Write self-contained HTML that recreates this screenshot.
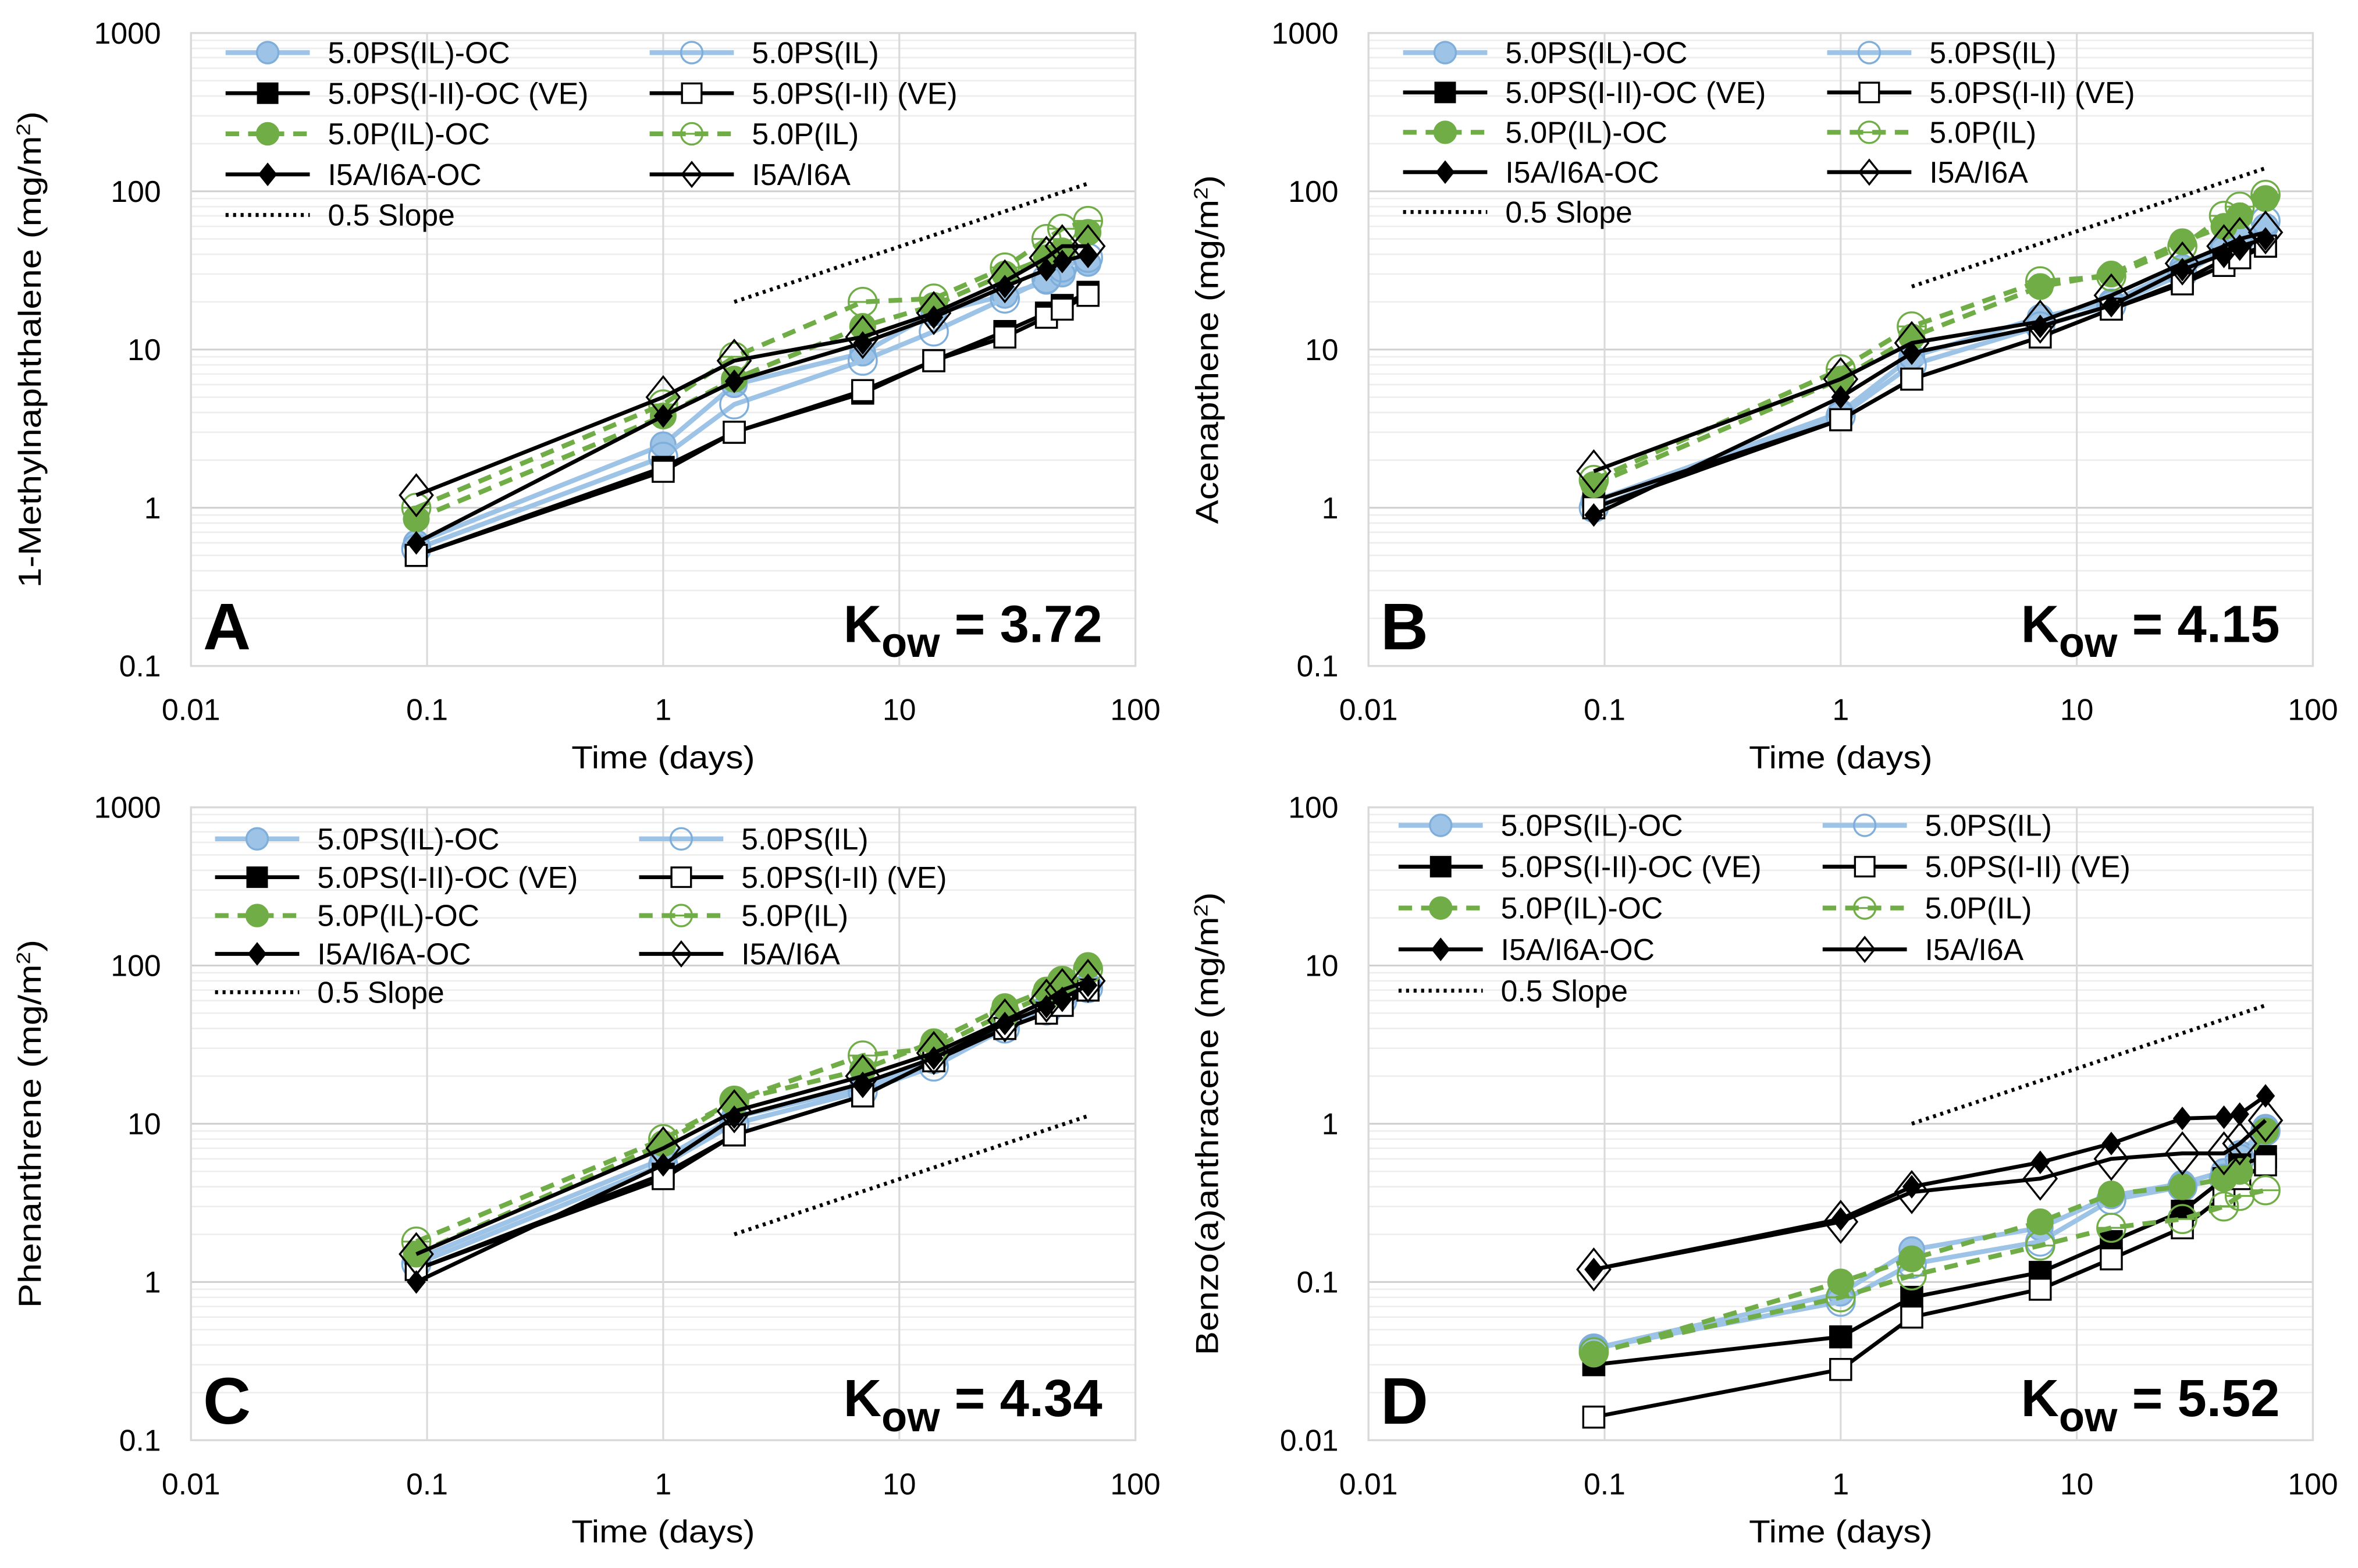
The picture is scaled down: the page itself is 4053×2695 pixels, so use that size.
<!DOCTYPE html>
<html><head><meta charset="utf-8">
<style>
html,body{margin:0;padding:0;background:#fff;}
svg{display:block;}
text{font-family:"Liberation Sans","DejaVu Sans",sans-serif;}
</style></head>
<body>
<svg id="fig" xmlns="http://www.w3.org/2000/svg" width="4053" height="2695" viewBox="0 0 1568 1043" preserveAspectRatio="none"></svg>
<script>
const times = [0.09, 1, 2, 7, 14, 28, 42, 49, 63];
const seriesNames = ["5.0PS(IL)-OC","5.0PS(IL)","5.0PS(I-II)-OC (VE)","5.0PS(I-II) (VE)","5.0P(IL)-OC","5.0P(IL)","I5A/I6A-OC","I5A/I6A"];
const xTicks = [0.01, 0.1, 1, 10, 100];
const xTickLabels = ["0.01","0.1","1","10","100"];
const yTicksABC = [0.1, 1, 10, 100, 1000];
const yTickLabelsABC = ["0.1","1","10","100","1000"];
const yTicksD = [0.01, 0.1, 1, 10, 100];
const yTickLabelsD = ["0.01","0.1","1","10","100"];
const slopeX = [2, 63];

const dataA = [
 [0.6,2.5,6,9.5,17,22,27,30,35],
 [0.55,2.1,4.5,8.5,13,21,28,33,38],
 [0.5,1.8,3,5.3,8.5,13,17,19,23],
 [0.5,1.7,3,5.5,8.5,12,16,18,22],
 [0.85,3.8,6.5,14,19,30,38,42,55],
 [1.0,4.5,9,20,21,33,50,58,65],
 [0.6,3.8,6.3,11,16,25,32,36,40],
 [1.2,5,8.5,12,17,27,38,45,45]];
const slopeA = [20, 112];
const dataB = [
 [1.1,4,9,16,20,33,45,52,60],
 [1.0,3.8,8,14,19,30,42,50,65],
 [1.1,3.6,6.5,12,18,27,37,40,45],
 [1.0,3.6,6.5,12,18,26,34,38,45],
 [1.4,6.5,12,25,30,48,60,70,90],
 [1.5,7.5,14,27,29,45,70,80,95],
 [0.9,5,9.5,14,19,32,40,45,50],
 [1.7,6.5,11,15,22,35,45,50,55]];
const slopeB = [25, 140];
const dataC = [
 [1.4,6,11,17,25,42,55,62,75],
 [1.3,5.5,10,16,23,40,52,60,72],
 [1.2,4.8,8.5,15,25,40,50,58,70],
 [1.2,4.5,8.5,15,25,40,50,56,70],
 [1.5,7.5,14,22,33,55,70,80,100],
 [1.8,8,14,27,30,50,65,80,95],
 [1.0,5.5,11,18,26,43,55,62,75],
 [1.5,7,12,20,28,45,60,70,80]];
const slopeC = [2, 11.2];
const dataD = [
 [0.038,0.085,0.16,0.22,0.35,0.42,0.5,0.65,0.95],
 [0.038,0.075,0.13,0.18,0.33,0.4,0.45,0.6,0.9],
 [0.03,0.045,0.08,0.115,0.18,0.28,0.45,0.55,0.62],
 [0.014,0.028,0.06,0.09,0.14,0.22,0.35,0.45,0.55],
 [0.035,0.1,0.14,0.24,0.36,0.4,0.45,0.5,0.9],
 [0.036,0.08,0.11,0.17,0.22,0.25,0.3,0.35,0.38],
 [0.12,0.25,0.4,0.57,0.75,1.08,1.1,1.15,1.5],
 [0.12,0.24,0.37,0.45,0.6,0.65,0.65,0.75,1.05]];
const slopeD = [1, 5.6];

const NS = "http://www.w3.org/2000/svg";
const svg = document.getElementById("fig");
function mk(tag, attrs, parent){
  const e = document.createElementNS(NS, tag);
  for (const k in attrs) e.setAttribute(k, attrs[k]);
  (parent||svg).appendChild(e);
  return e;
}
const BLUE="#9DC3E6", BLUEM="#7FAEDB", GREEN="#70AD47";
const styles = [
 {c:BLUE, w:3.2, dash:null, m:"circle", fill:BLUE, stroke:BLUEM},
 {c:BLUE, w:3.2, dash:null, m:"circle", fill:"none", stroke:BLUEM},
 {c:"#000", w:2.6, dash:null, m:"square", fill:"#000", stroke:"#000"},
 {c:"#000", w:2.6, dash:null, m:"square", fill:"none", stroke:"#000"},
 {c:GREEN, w:3.2, dash:"9,6", m:"circle", fill:GREEN, stroke:GREEN},
 {c:GREEN, w:3.2, dash:"9,6", m:"circleline", fill:"none", stroke:GREEN},
 {c:"#000", w:2.6, dash:null, m:"diamond", fill:"#000", stroke:"#000"},
 {c:"#000", w:2.6, dash:null, m:"diamond", fill:"none", stroke:"#000"}];

function marker(g, type, x, y, st, s){
  let e;
  if (type==="circle"||type==="circleline"){
    e = mk("circle",{cx:x,cy:y,r:s*0.55,fill:st.fill==="none"?"none":st.fill,stroke:st.stroke,"stroke-width":1.3},g);
    if (type==="circleline") mk("line",{x1:x-s*0.55,y1:y,x2:x+s*0.55,y2:y,stroke:st.stroke,"stroke-width":1.2},g);
  } else if (type==="square"){
    e = mk("rect",{x:x-s*0.5,y:y-s*0.5,width:s,height:s,fill:st.fill==="none"?"#fff":st.fill,stroke:st.stroke,"stroke-width":1.3},g);
  } else {
    const h=s*0.62;
    e = mk("polygon",{points:`${x},${y-h} ${x+h*0.8},${y} ${x},${y+h} ${x-h*0.8},${y}`,fill:st.fill==="none"?"none":st.fill,stroke:st.stroke,"stroke-width":1.3},g);
  }
  return e;
}

function panel(cfg){
  const g = mk("g",{});
  
  
  const L=cfg.x0, R=cfg.x0+628, T=cfg.y0, B=cfg.y0+421;
  const lx0=Math.log10(0.01), lx1=Math.log10(100);
  const ly0=Math.log10(cfg.yticks[0]), ly1=Math.log10(cfg.yticks[cfg.yticks.length-1]);
  const X = v => L + (Math.log10(v)-lx0)/(lx1-lx0)*(R-L);
  const Y = v => B - (Math.log10(v)-ly0)/(ly1-ly0)*(B-T);
  for (let d=0; d<cfg.yticks.length-1; d++){
    for (let k=2;k<=9;k++){
      const v = cfg.yticks[d]*k;
      const ln = mk("line",{x1:L,x2:R,y1:Y(v),y2:Y(v),stroke:"#EDEDED","stroke-width":1},g);
      
      
    }
  }
  cfg.yticks.forEach((v,i)=>{
    const ln = mk("line",{x1:L,x2:R,y1:Y(v),y2:Y(v),stroke:"#D0D0D0","stroke-width":1.2},g);
    
    
    const t = mk("text",{x:L-20,y:Y(v)+7,"text-anchor":"end","font-size":20,fill:"#000"},g);
    t.textContent = cfg.ylabels[i];
    
    
  });
  xTicks.forEach((v,i)=>{
    const ln = mk("line",{x1:X(v),x2:X(v),y1:T,y2:B,stroke:"#D9D9D9","stroke-width":1.2},g);
    
    
    const t = mk("text",{x:X(v),y:B+36,"text-anchor":"middle","font-size":20,fill:"#000"},g);
    t.textContent = xTickLabels[i];
    
    
  });
  const fr = mk("rect",{x:L,y:T,width:R-L,height:B-T,fill:"none",stroke:"#D9D9D9","stroke-width":1.3},g);
  
  
  const xt = mk("text",{x:(L+R)/2,y:B+68,"text-anchor":"middle","font-size":21,fill:"#000",textLength:122,lengthAdjust:"spacingAndGlyphs"},g);
  xt.textContent = "Time (days)";
  
  
  const yc=(T+B)/2, yx=cfg.x0-100;
  const yt = mk("text",{x:yx,y:yc,"text-anchor":"middle","font-size":21,fill:"#000",transform:`rotate(-90 ${yx} ${yc})`,textLength:cfg.ylen,lengthAdjust:"spacingAndGlyphs"},g);
  yt.innerHTML = cfg.ytitle + ' (mg/m<tspan dy="-7" font-size="13">2</tspan><tspan dy="7">)</tspan>';
  
  
  const sl = mk("line",{x1:X(slopeX[0]),y1:Y(cfg.slope[0]),x2:X(slopeX[1]),y2:Y(cfg.slope[1]),stroke:"#000","stroke-width":2.6,"stroke-dasharray":"2,3"},g);
  
  
  cfg.data.forEach((vals,si)=>{
    const st = styles[si];
    const sg = mk("g",{},g);
    
    
    const pts = vals.map((v,i)=>X(times[i])+","+Y(v)).join(" ");
    const pl = mk("polyline",{points:pts,fill:"none",stroke:st.c,"stroke-width":st.w,"stroke-linejoin":"round"},sg);
    if (st.dash) pl.setAttribute("stroke-dasharray", st.dash);
    
    
    vals.forEach((v,i)=>{
      const sz = (si===6)?11:(si===7?22:(st.m==="square"?14:(si===1||si===5?17:15)));
      const m = marker(sg, st.m, X(times[i]), Y(v), st, sz);
      
      
    });
  });
  const lg = mk("g",{},g);
  
  
  const cols=[cfg.lx, cfg.lx+282];
  for (let si=0; si<9; si++){
    const col = si<8 ? si%2 : 0;
    const row = si<8 ? Math.floor(si/2) : 4;
    const yy = cfg.ly + row*cfg.ldy;
    const x1 = cols[col], x2 = x1+56;
    const eg = mk("g",{},lg);
    
    
    if (si<8){
      const st=styles[si];
      const l = mk("line",{x1:x1,x2:x2,y1:yy,y2:yy,stroke:st.c,"stroke-width":st.w},eg);
      if (st.dash) l.setAttribute("stroke-dasharray", st.dash);
      const sz = (si===6)?11:13;
      marker(eg, st.m, (x1+x2)/2, yy, st, sz);
    } else {
      mk("line",{x1:x1,x2:x2,y1:yy,y2:yy,stroke:"#000","stroke-width":2.6,"stroke-dasharray":"2,3"},eg);
    }
    const t = mk("text",{x:x2+12,y:yy+7,"font-size":20,fill:"#000"},eg);
    t.textContent = si<8 ? seriesNames[si] : "0.5 Slope";
  }
  const pl = mk("text",{x:L+8,y:B-11,"font-size":44,"font-weight":"bold",fill:"#000"},g);
  pl.textContent = cfg.letter;
  
  
  const kt = mk("text",{x:R-22,y:B-16,"text-anchor":"end","font-size":35,"font-weight":"bold",fill:"#000"},g);
  kt.innerHTML = 'K<tspan dy="10" font-size="28">ow</tspan><tspan dy="-10"> = '+cfg.kow+'</tspan>';
  
  
}

panel({letter:"A",x0:127,y0:22,yticks:yTicksABC,ylabels:yTickLabelsABC,data:dataA,slope:slopeA,ytitle:"1-Methylnaphthalene",ylen:317,kow:"3.72",lx:150,ly:35,ldy:27});
panel({letter:"B",x0:910,y0:22,yticks:yTicksABC,ylabels:yTickLabelsABC,data:dataB,slope:slopeB,ytitle:"Acenapthene",ylen:232,kow:"4.15",lx:933,ly:35,ldy:26.5});
panel({letter:"C",x0:127,y0:537,yticks:yTicksABC,ylabels:yTickLabelsABC,data:dataC,slope:slopeC,ytitle:"Phenanthrene",ylen:245,kow:"4.34",lx:143,ly:558,ldy:25.5});
panel({letter:"D",x0:910,y0:537,yticks:yTicksD,ylabels:yTickLabelsD,data:dataD,slope:slopeD,ytitle:"Benzo(a)anthracene",ylen:308,kow:"5.52",lx:930,ly:549,ldy:27.5});
</script>
</body></html>
